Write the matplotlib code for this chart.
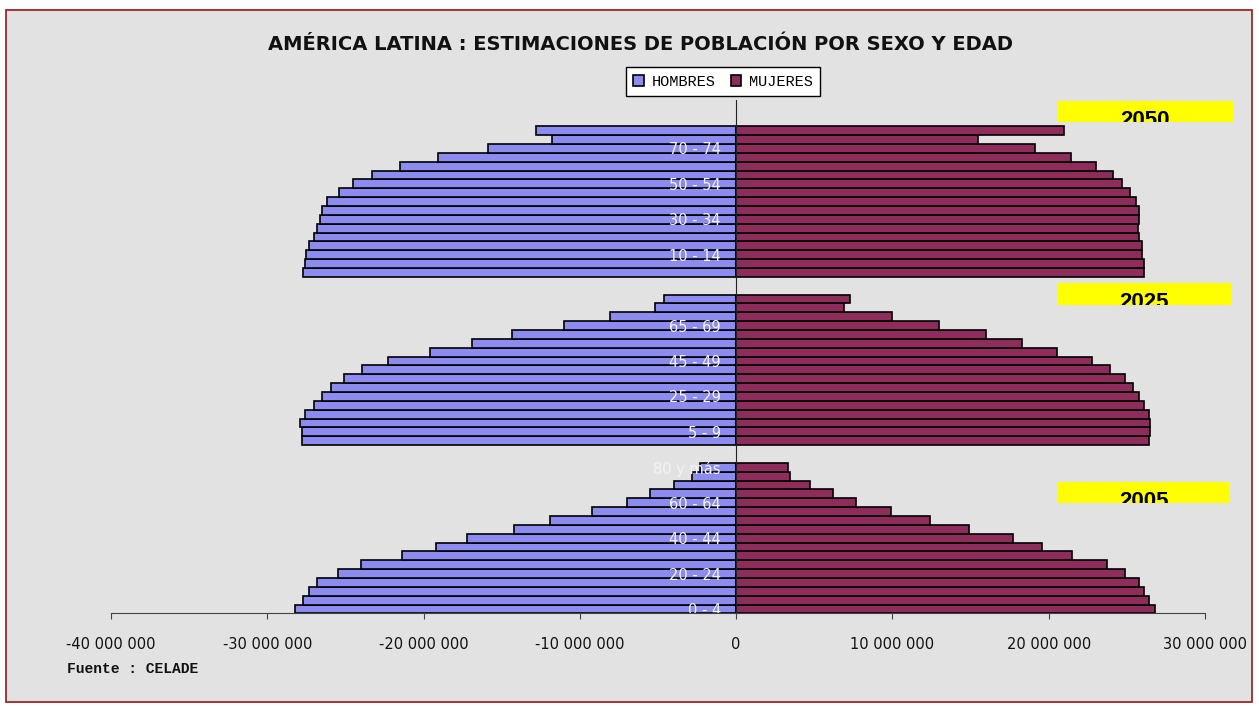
import numpy as np
import matplotlib.pyplot as plt
from matplotlib.patches import Rectangle

W, H = 1259, 706

# age groups (same for each year)
ages = ["0 - 4", "5 - 9", "10 - 14", "15 - 19", "20 - 24", "25 - 29", "30 - 34",
        "35 - 39", "40 - 44", "45 - 49", "50 - 54", "55 - 59", "60 - 64",
        "65 - 69", "70 - 74", "75 - 79", "80 y más"]
years = ["2005", "2025", "2050"]

# population in millions
men_2005 = [28.2, 27.7, 27.3, 26.8, 25.5, 24.0, 21.4, 19.2, 17.2, 14.2, 11.9, 9.2, 7.0, 5.5, 4.0, 2.8, 2.3]
women_2005 = [26.8, 26.4, 26.1, 25.8, 24.9, 23.7, 21.5, 19.6, 17.7, 14.9, 12.4, 9.9, 7.7, 6.2, 4.75, 3.45, 3.35]
men_2025 = [27.8, 27.8, 27.9, 27.6, 27.0, 26.5, 25.9, 25.1, 23.95, 22.3, 19.6, 16.9, 14.35, 11.0, 8.05, 5.2, 4.6]
women_2025 = [26.4, 26.5, 26.5, 26.4, 26.1, 25.8, 25.4, 24.9, 23.9, 22.8, 20.5, 18.3, 16.0, 12.95, 10.0, 6.9, 7.3]
men_2050 = [27.7, 27.6, 27.5, 27.3, 27.0, 26.8, 26.65, 26.5, 26.15, 25.4, 24.5, 23.3, 21.5, 19.1, 15.9, 11.8, 12.8]
women_2050 = [26.1, 26.1, 26.0, 26.0, 25.8, 25.7, 25.8, 25.8, 25.6, 25.2, 24.7, 24.1, 23.05, 21.4, 19.1, 15.5, 21.0]

men = [men_2005, men_2025, men_2050]
women = [women_2005, women_2025, women_2050]

# category rows: each year block followed by blank rows (like the excel sheet)
cats = ages + ["", ""] + ages + ["", ""] + ages + ["", "", ""]
offsets = [0, 19, 38]

blue = "#8c8cf0"
wine = "#8e2c5c"

def px(x, y):
    return x / W, 1 - y / H

fig = plt.figure(figsize=(W / 100, H / 100), dpi=100)
fig.patch.set_facecolor("white")
fig.patches.append(Rectangle(px(6, 702), 1246 / W, 692 / H, transform=fig.transFigure,
                             facecolor="#e2e2e2", edgecolor="#9b2a2a", lw=1.3, zorder=-5))

ax = fig.add_axes([111 / W, 1 - 613.4 / H, (1205 - 111) / W, (613.4 - 99.7) / H])
ax.set_facecolor("none")
ax.set_zorder(1)

for k in range(3):
    y = np.arange(17) + offsets[k]
    ax.barh(y, -np.array(men[k]) * 1e6, height=1.0, color=blue, edgecolor="black", lw=1.2,
            label="HOMBRES" if k == 0 else None)
    ax.barh(y, np.array(women[k]) * 1e6, height=1.0, color=wine, edgecolor="black", lw=1.2,
            label="MUJERES" if k == 0 else None)

ax.set_xlim(-40e6, 30e6)
ax.set_ylim(-0.5, len(cats) - 0.5)
ax.set_xticks(np.arange(-40e6, 30e6 + 1, 10e6))
ax.set_xticklabels([f"{v:,.0f}".replace(",", " ") for v in np.arange(-40e6, 30e6 + 1, 10e6)])
ax.set_yticks(range(0, len(cats), 4))
ax.set_yticklabels([cats[i] for i in range(0, len(cats), 4)])

for s in ("top", "right"):
    ax.spines[s].set_visible(False)
ax.spines["left"].set_position(("data", 0))
ax.spines["left"].set_color("#222222")
ax.spines["bottom"].set_color("#444444")
ax.tick_params(axis="y", length=0, pad=11, labelsize=10.5, labelcolor="#f4f4f4")
ax.tick_params(axis="x", length=4, direction="out", color="#444444", pad=13,
               labelsize=10.5, labelcolor="#111111")

fig.text(640 / W, 1 - 44 / H, "AMÉRICA LATINA : ESTIMACIONES DE POBLACIÓN POR SEXO Y EDAD",
         ha="center", va="center", fontsize=14, fontweight="bold", color="#111111")

leg = fig.legend(loc="center", bbox_to_anchor=(723 / W, 1 - 81.5 / H), ncol=2, frameon=True,
                 fancybox=False, edgecolor="black", framealpha=1, borderpad=0.5,
                 handlelength=0.7, handleheight=0.7, handletextpad=0.5, columnspacing=1.0,
                 prop={"family": "Liberation Mono", "size": 11})
leg.get_frame().set_linewidth(1)
leg.set_zorder(5)

# yellow year boxes (text partly hidden by the box edge)
boxes = {"2050": (1057, 101, 1233, 122), "2025": (1057, 283, 1231, 305), "2005": (1058, 482, 1230, 503)}
for yr in years:
    x0, y0, x1, y1 = boxes[yr]
    r = Rectangle(px(x0, y1), (x1 - x0) / W, (y1 - y0) / H, transform=fig.transFigure,
                  facecolor="#ffff00", edgecolor="none", zorder=3)
    fig.patches.append(r)
    t = fig.text((x0 + x1) / 2 / W, 1 - (y0 + 9) / H, yr, ha="center", va="top",
                 fontsize=16, fontweight="bold", family="Liberation Sans", zorder=4)
    t.set_clip_path(r)

fig.text(67 / W, 1 - 669 / H, "Fuente : CELADE", ha="left", va="center",
         family="Liberation Mono", fontweight="bold", fontsize=10.5, color="#111111")

fig.savefig("out.png", dpi=100)
